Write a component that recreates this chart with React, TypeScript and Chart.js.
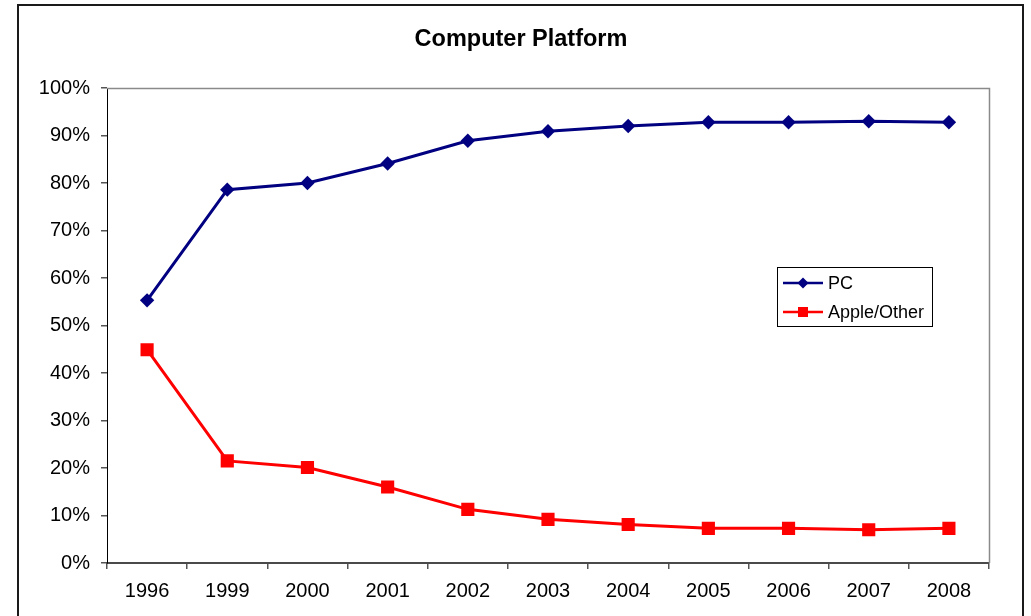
import React, { useEffect, useRef } from "react";
import { Chart, registerables } from "chart.js";

Chart.register(...registerables);

const years = ["1996", "1999", "2000", "2001", "2002", "2003", "2004", "2005", "2006", "2007", "2008"];
const pcShare = [55.3, 78.6, 80.0, 84.1, 88.9, 90.9, 92.0, 92.8, 92.8, 93.0, 92.8];
const appleShare = [44.9, 21.5, 20.1, 16.0, 11.3, 9.2, 8.1, 7.3, 7.3, 7.0, 7.3];
const yTicks = [0, 10, 20, 30, 40, 50, 60, 70, 80, 90, 100];
const chartTitle = "Computer Platform";

const FONT = "'Liberation Sans', Arial, sans-serif";

const framePlugin = {
  id: "frame",
  afterDraw(chart: any) {
    const { ctx, chartArea } = chart;
    const { left, right, top, bottom } = chartArea;
    ctx.save();
    // outer frame
    ctx.strokeStyle = "#1a1a1a";
    ctx.lineWidth = 2;
    ctx.strokeRect(18, 5, 1005, 700);
    // plot area top/right border
    ctx.strokeStyle = "#8a8a8a";
    ctx.lineWidth = 1.5;
    ctx.beginPath();
    ctx.moveTo(left, top + 0.5);
    ctx.lineTo(right + 0.5, top + 0.5);
    ctx.lineTo(right + 0.5, bottom);
    ctx.stroke();
    // title
    ctx.fillStyle = "#000";
    ctx.font = `bold 23.5px ${FONT}`;
    ctx.textAlign = "center";
    ctx.textBaseline = "alphabetic";
    ctx.fillText(chartTitle, 521, 46);
    // legend
    const lx = 777, ly = 267, lw = 155, lh = 59;
    ctx.fillStyle = "#fff";
    ctx.fillRect(lx, ly, lw, lh);
    ctx.strokeStyle = "#000";
    ctx.lineWidth = 1;
    ctx.strokeRect(lx + 0.5, ly + 0.5, lw, lh);
    const rows = [283, 312];
    chart.data.datasets.forEach((ds: any, i: number) => {
      const y = rows[i];
      ctx.strokeStyle = ds.borderColor;
      ctx.lineWidth = 2.5;
      ctx.beginPath();
      ctx.moveTo(783, y);
      ctx.lineTo(823, y);
      ctx.stroke();
      ctx.fillStyle = ds.pointBackgroundColor;
      ctx.beginPath();
      if (ds.pointStyle === "rectRot") {
        const r = 5.5;
        ctx.moveTo(803, y - r);
        ctx.lineTo(803 + r, y);
        ctx.lineTo(803, y + r);
        ctx.lineTo(803 - r, y);
        ctx.closePath();
      } else {
        ctx.rect(803 - 5, y - 5, 10, 10);
      }
      ctx.fill();
      ctx.fillStyle = "#000";
      ctx.font = `18px ${FONT}`;
      ctx.textAlign = "left";
      ctx.textBaseline = "middle";
      ctx.fillText(ds.label, 828, y + 1);
    });
    ctx.restore();
  },
};

export default function App() {
  const canvasRef = useRef<HTMLCanvasElement | null>(null);

  useEffect(() => {
    if (!canvasRef.current) return;
    const chart = new Chart(canvasRef.current, {
      type: "line",
      data: {
        labels: years,
        datasets: [
          {
            label: "PC",
            data: pcShare,
            borderColor: "#000080",
            backgroundColor: "#000080",
            pointBackgroundColor: "#000080",
            pointBorderColor: "#000080",
            pointStyle: "rectRot",
            pointRadius: 7.2,
            pointBorderWidth: 0,
            borderWidth: 3,
            tension: 0,
          },
          {
            label: "Apple/Other",
            data: appleShare,
            borderColor: "#ff0000",
            backgroundColor: "#ff0000",
            pointBackgroundColor: "#ff0000",
            pointBorderColor: "#ff0000",
            pointStyle: "rect",
            pointRadius: 9.3,
            pointBorderWidth: 0,
            borderWidth: 3,
            tension: 0,
          },
        ],
      },
      options: {
        responsive: false,
        animation: false,
        layout: { padding: { top: 88, right: 42, left: 0, bottom: 0 } },
        plugins: {
          legend: { display: false },
          title: { display: false },
          tooltip: { enabled: false },
        },
        scales: {
          x: {
            type: "category",
            offset: true,
            afterFit: (scale: any) => {
              scale.height = 53;
            },
            grid: {
              offset: true,
              drawOnChartArea: false,
              drawTicks: true,
              tickLength: 6,
              color: "#555",
              lineWidth: 1.5,
            },
            border: { display: true, color: "#4a4a4a", width: 2 },
            ticks: {
              color: "#000",
              font: { family: FONT, size: 20 },
              padding: 10,
              maxRotation: 0,
              autoSkip: false,
            },
          },
          y: {
            min: 0,
            max: 100,
            afterFit: (scale: any) => {
              scale.width = 107;
            },
            afterBuildTicks: (scale: any) => {
              scale.ticks = yTicks.map((v) => ({ value: v }));
            },
            grid: {
              drawOnChartArea: false,
              drawTicks: true,
              tickLength: 6,
              color: "#555",
              lineWidth: 1.5,
            },
            border: { display: true, color: "#000", width: 1 },
            ticks: {
              color: "#000",
              font: { family: FONT, size: 20 },
              padding: 11,
              callback: (v: any) => `${v}%`,
            },
          },
        },
      },
      plugins: [framePlugin],
    });
    return () => chart.destroy();
  }, []);

  return (
    <div style={{ position: "absolute", left: 0, top: 0, width: 1031, height: 616, background: "#fff" }}>
      <canvas ref={canvasRef} width={1031} height={616} style={{ display: "block" }} />
    </div>
  );
}
